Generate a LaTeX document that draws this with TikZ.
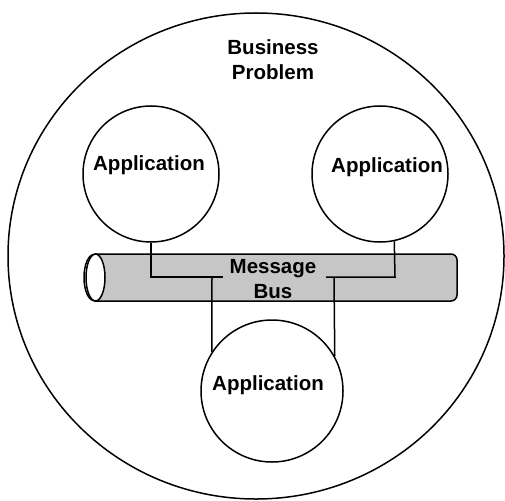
\documentclass[tikz,border=0pt]{standalone}
\usepackage{fontspec}
\usetikzlibrary{shapes.geometric}
\setmainfont{Liberation Sans}
\definecolor{busgrey}{RGB}{198,198,198}
\begin{document}
\begin{tikzpicture}[x=1pt,y=-1pt,
  outline/.style={draw=black,line width=1.5pt},
  appcircle/.style={outline,circle,inner sep=0pt,fill=white},
  lbl/.style={font=\fontsize{20.5}{25}\selectfont\bfseries,align=center,inner sep=0pt},
  wire/.style={draw=black,line width=1.5pt}]
\useasboundingbox (0,0) rectangle (505,500);

% outer boundary: the business problem
\node[outline,ellipse,minimum width=496pt,minimum height=486pt,inner sep=0pt] (problem) at (256,256) {};
\node[lbl] (problemtext) at (273,59.5) {Business\\Problem};

% the message bus tube
\path[outline,fill=busgrey] (95,254) -- (451,254) arc[start angle=90,end angle=0,x radius=6pt,y radius=6pt]
  -- (457,295) arc[start angle=0,end angle=-90,x radius=6pt,y radius=6pt] -- (95,301) -- cycle;
\path[outline,fill=white] (95.5,277.5) ellipse[x radius=9.5pt,y radius=23.5pt];
\draw[line width=1.5pt] (94,254.5) arc[start angle=90,end angle=270,x radius=10pt,y radius=23pt];
\node[lbl] (bustext) at (273,279.5) {Message\\Bus};

% applications
\node[appcircle,minimum size=136pt] (appL) at (151,174) {};
\node[appcircle,minimum size=136pt] (appR) at (380,174) {};
\node[appcircle,minimum size=142pt] (appB) at (272,391) {};
\node[lbl] (appLtext) at (149,165) {Application};
\node[lbl] (appRtext) at (387,167) {Application};
\node[lbl] (appBtext) at (268,385) {Application};

% connections into the bus
\coordinate (jL) at (151,277);
\coordinate (eL) at (223,277);
\coordinate (dL) at (212,277);
\coordinate (jR) at (395,277);
\coordinate (eR) at (326,277);
\coordinate (dR) at (334,277);
\draw[wire] (appL.south) -- (jL) -- (eL);
\draw[wire] (appR.282.7) -- (jR) -- (eR);
\draw[wire] (dL) -- (appB.147.7);
\draw[wire] (dR) -- (appB.29.2);
\end{tikzpicture}
\end{document}
